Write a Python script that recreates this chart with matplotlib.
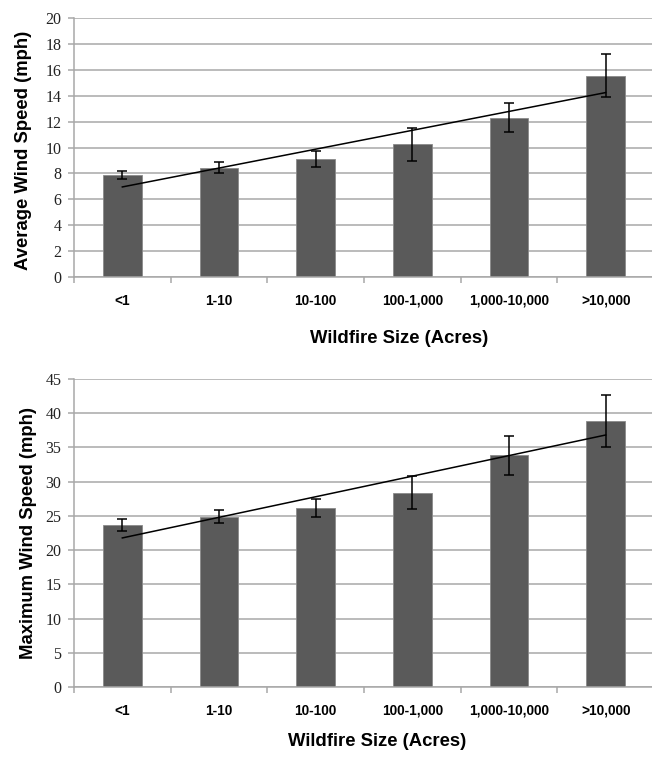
import matplotlib.pyplot as plt
import numpy as np

categories = ["<1", "1-10", "10-100", "100-1,000", "1,000-10,000", ">10,000"]

avg_speed = [7.9, 8.45, 9.15, 10.26, 12.32, 15.57]
avg_err = [0.3, 0.4, 0.62, 1.27, 1.13, 1.68]

max_speed = [23.66, 24.87, 26.14, 28.37, 33.8, 38.87]
max_err = [0.85, 0.92, 1.34, 2.42, 2.83, 3.8]

BAR = "#5a5a5a"
GRID = "#a8a8a8"


def draw_panel(ax, values, errors, ylabel, ymax, ystep, xlab_pos, ylab_pos):
    x = np.arange(len(categories))
    ax.bar(x, values, width=0.4, color=BAR, edgecolor="#8a8a8a", linewidth=0.6, zorder=2)
    ax.errorbar(x, values, yerr=errors, fmt="none", ecolor="black",
                elinewidth=1.1, capsize=3.3, capthick=1.1, zorder=3)
    # tendencia lineal como en Excel
    slope, intercept = np.polyfit(x, values, 1)
    ax.plot(x, slope * x + intercept, color="black", linewidth=1.1, zorder=4)

    ax.set_xlim(-0.5, len(categories) - 0.5)
    ax.set_ylim(0, ymax)
    ax.set_yticks(np.arange(0, ymax + 0.1, ystep))
    ax.yaxis.grid(True, color=GRID, linewidth=1.1, zorder=0)
    ax.set_axisbelow(True)

    ax.set_xticks(x)
    ax.set_xticklabels(categories, fontsize=9.8, fontweight="bold",
                       family="Liberation Sans")
    ax.set_xticks(np.arange(-0.5, len(categories)), minor=True)
    ax.tick_params(axis="x", which="major", length=0, pad=12)
    ax.tick_params(axis="x", which="minor", length=4, color=GRID, width=1.1)
    ax.tick_params(axis="y", length=4, color=GRID, width=1.1, pad=5,
                   labelsize=11.5)
    for lab in ax.get_yticklabels():
        lab.set_family("Liberation Serif")
        lab.set_color("#222222")

    for side in ("top", "right"):
        ax.spines[side].set_visible(False)
    for side in ("left", "bottom"):
        ax.spines[side].set_color(GRID)
        ax.spines[side].set_linewidth(1.1)

    ax.set_ylabel(ylabel, fontsize=13.3, fontweight="bold",
                  family="Liberation Sans")
    ax.set_xlabel("Wildfire Size (Acres)", fontsize=13.3, fontweight="bold",
                  family="Liberation Sans")
    ax.xaxis.set_label_coords(*xlab_pos)
    ax.yaxis.set_label_coords(*ylab_pos)


fig = plt.figure(figsize=(6.52, 7.58), dpi=100)
ax1 = fig.add_axes([0.1135, 0.6346, 0.8896, 0.3413])
ax2 = fig.add_axes([0.1135, 0.0933, 0.8896, 0.4071])

draw_panel(ax1, avg_speed, avg_err, "Average Wind Speed (mph)", 20, 2,
           (0.560, -0.205), (-0.072, 0.49))
draw_panel(ax2, max_speed, max_err, "Maximum Wind Speed (mph)", 45, 5,
           (0.522, -0.148), (-0.064, 0.5))

fig.savefig("out.png", dpi=100)
